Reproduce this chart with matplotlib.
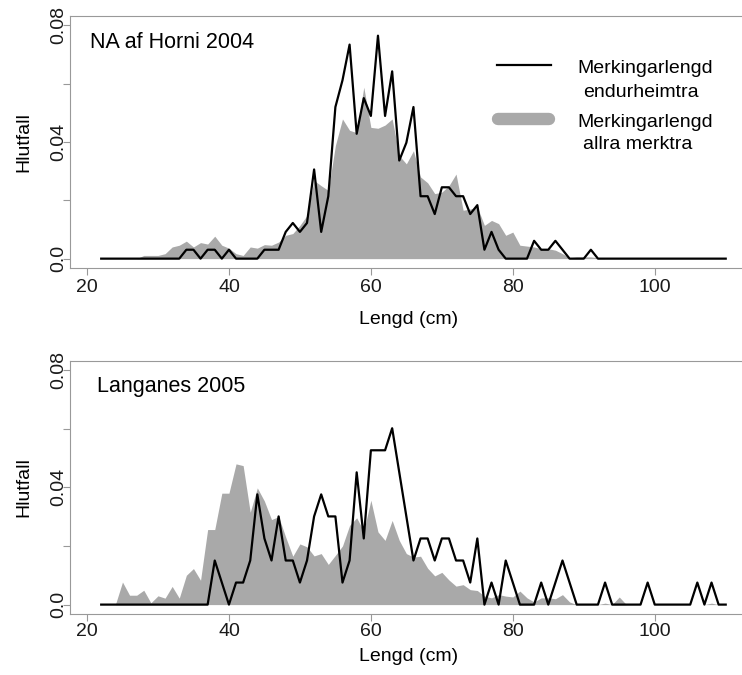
import numpy as np
import matplotlib
matplotlib.use("Agg")
import matplotlib.pyplot as plt

plt.rcParams["font.family"] = ["Liberation Sans", "DejaVu Sans"]

# Length classes (cm)
lengd = np.arange(22, 111)

# NA af Horni 2004 - recaptured fish, counts per cm
horni_endur = ([0] * 12
               + [1, 1, 0, 1, 1, 0, 1, 0, 0, 0, 0, 1, 1, 1]
               + [3, 4, 3, 4, 10, 3, 7, 17, 20, 24]
               + [14, 18, 16, 25, 16, 21, 11, 13, 17, 7]
               + [7, 5, 8, 8, 7, 7, 5, 6, 1, 3, 1]
               + [0, 0, 0, 0, 2, 1, 1, 2, 1, 0, 0, 0, 1]
               + [0] * 19)

# NA af Horni 2004 - all tagged fish, proportion per cm
horni_allra = ([0] * 6
               + [.0011, .0011, .0011, .0017, .0040, .0046, .0060, .0040, .0055, .0050,
                  .0077, .0046, .0036, .0017, .0011, .0040, .0036, .0048, .0046, .0057]
               + [.0080, .0086, .0114, .0148, .0268, .0250, .0234, .0388, .0479, .0440]
               + [.0432, .0588, .0450, .0447, .0458, .0479, .0353, .0325, .0370, .0280]
               + [.0260, .0223, .0228, .0250, .0290, .0166, .0170, .0177, .0114, .0131]
               + [.0120, .0080, .0091, .0046, .0043, .0040, .0034, .0034, .0029, .0017]
               + [.0003, .0006, .0006, .0006, .0003]
               + [0] * 18)

# Langanes 2005 - recaptured fish, counts per cm
langa_endur = ([0] * 16
               + [2, 1, 0, 1, 1, 2, 5, 3, 2, 4]
               + [2, 2, 1, 2, 4, 5, 4, 4, 1, 2]
               + [6, 3, 7, 7, 7, 8, 6, 4, 2, 3]
               + [3, 2, 3, 3, 2, 2, 1, 3, 0, 1]
               + [0, 2, 1, 0, 0, 0, 1, 0, 1, 2, 1]
               + [0, 0, 0, 0, 1, 0, 0, 0, 0, 0, 1, 0, 0, 0, 0, 0, 0, 1, 0, 1, 0, 0])

# Langanes 2005 - all tagged fish, proportion per cm
langa_allra = ([0, 0, 0]
               + [.0077, .0032, .0032, .0049, .0006, .0030, .0022, .0062, .0022, .0100, .0123, .0083]
               + [.0256, .0256, .0380, .0380, .0480, .0474, .0315, .0398, .0353, .0290]
               + [.0300, .0230, .0165, .0207, .0197, .0166, .0174, .0137, .0168, .0200]
               + [.0270, .0296, .0250, .0356, .0248, .0219, .0287, .0219, .0174, .0162]
               + [.0165, .0124, .0098, .0110, .0084, .0063, .0068, .0051, .0048, .0029]
               + [.0023, .0034, .0029, .0026, .0046, .0023, .0009, .0023, .0023, .0020, .0034, .0009]
               + [0, 0, 0, 0, .0005, 0, .0026] + [0] * 12 + [.0005, 0, 0])

panels = ["NA af Horni 2004", "Langanes 2005"]
gray = "#a9a9a9"
spine_col = "#999999"

fig = plt.figure(figsize=(7.42, 6.75), dpi=100)
ax1 = fig.add_axes([0.0943, 0.6030, 0.9134, 0.3733])
ax2 = fig.add_axes([0.0943, 0.0904, 0.9134, 0.3753])

data = [(ax1, horni_endur, horni_allra), (ax2, langa_endur, langa_allra)]
for i, (ax, endur, allra) in enumerate(data):
    endur = np.array(endur, dtype=float)
    ax.fill_between(lengd, 0, allra, color=gray, lw=0)
    ax.plot(lengd, endur / endur.sum(), color="black", lw=1.6)

    ax.set_xlim(17.6, 113.1)
    ax.set_ylim(-0.0032, 0.0832)
    ax.set_xticks([20, 40, 60, 80, 100])
    ax.set_yticks([0, 0.02, 0.04, 0.06, 0.08])
    ax.set_yticklabels(["0.0", "", "0.04", "", "0.08"], rotation=90, va="center")
    ax.tick_params(axis="both", colors=spine_col, labelcolor="#1a1a1a",
                   labelsize=14, length=5, width=0.8)
    ax.tick_params(axis="y", pad=-3)
    ax.tick_params(axis="x", pad=3 if i == 0 else 1.5)
    for side in ["top", "left", "bottom"]:
        ax.spines[side].set_color(spine_col)
        ax.spines[side].set_linewidth(0.8)
    ax.spines["right"].set_visible(False)

    ax.set_xlabel("Lengd (cm)", fontsize=14, va="center")
    ax.set_ylabel("Hlutfall", fontsize=14, va="center")
    ax.yaxis.set_label_coords(-0.0676, 0.5)

ax1.xaxis.set_label_coords(0.5, -0.206)
ax2.xaxis.set_label_coords(0.5, -0.168)

ax1.text(0.029, 0.872, panels[0], transform=ax1.transAxes, fontsize=15.5, va="baseline")
ax2.text(0.040, 0.875, panels[1], transform=ax2.transAxes, fontsize=15.5, va="baseline")

# Legend
ax1.plot([0.630, 0.710], [0.806, 0.806], color="black", lw=1.6, transform=ax1.transAxes)
ax1.plot([0.631, 0.707], [0.592, 0.592], color=gray, lw=8.9, solid_capstyle="round",
         transform=ax1.transAxes)
ax1.text(0.749, 0.775, "Merkingarlengd", transform=ax1.transAxes, fontsize=14, va="baseline")
ax1.text(0.757, 0.680, "endurheimtra", transform=ax1.transAxes, fontsize=14, va="baseline")
ax1.text(0.749, 0.561, "Merkingarlengd", transform=ax1.transAxes, fontsize=14, va="baseline")
ax1.text(0.757, 0.471, "allra merktra", transform=ax1.transAxes, fontsize=14, va="baseline")

fig.savefig("out.png", dpi=100)
